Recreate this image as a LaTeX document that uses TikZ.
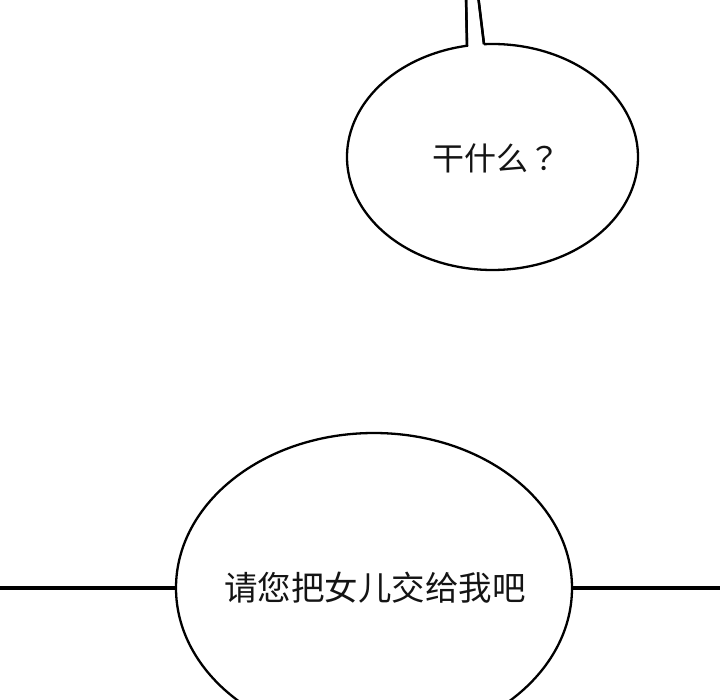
\documentclass[tikz,border=0pt]{standalone}
\usepackage{fontspec}
\newfontfamily\cjk{Noto Sans CJK SC}
\newfontfamily\cjkjp{Noto Sans CJK JP}
\tikzset{
  bubble/.style={draw=black, line width=2.3pt, fill=white},
  tailline/.style={draw=black, line width=2.5pt, line join=miter},
  bar/.style={draw=black, line width=4.2pt},
  speech/.style={font=\cjk\fontsize{33}{36}\selectfont, text=black!92, inner sep=0pt}
}
\begin{document}
\begin{tikzpicture}[x=1pt,y=-1pt]
\useasboundingbox (0,0) rectangle (720,700);
\fill[white] (0,0) rectangle (720,700);
\clip (0,0) rectangle (720,700);
% top bubble with tail
\path[bubble] (478,-5) -- (484,44.2) -- plot[domain=93.35:-259.91, samples=300] ({492.5+145.5*cos(\x)}, {157-113*sin(\x)}) -- (466,-5);
\draw[tailline] (478,-5) -- (484,44.2);
\draw[tailline] (466,-5) -- (467,45.8);
\node[speech, font=\cjk\fontsize{32}{36}\selectfont] (q) at (496,158) {干什么{\cjkjp ？}};
% horizontal bars
\coordinate (lb) at (0,588);
\coordinate (rb) at (720,588);
\coordinate (le) at (177,588);
\coordinate (re) at (571,588);
\draw[bar] (lb) -- (le);
\draw[bar] (re) -- (rb);
% bottom bubble
\draw[bubble] (374,588) ellipse [x radius=198, y radius=155];
\node[speech, font=\cjk\fontsize{33.5}{36}\selectfont] (a) at (375,588) {请您把女儿交给我吧};
\end{tikzpicture}
\end{document}
